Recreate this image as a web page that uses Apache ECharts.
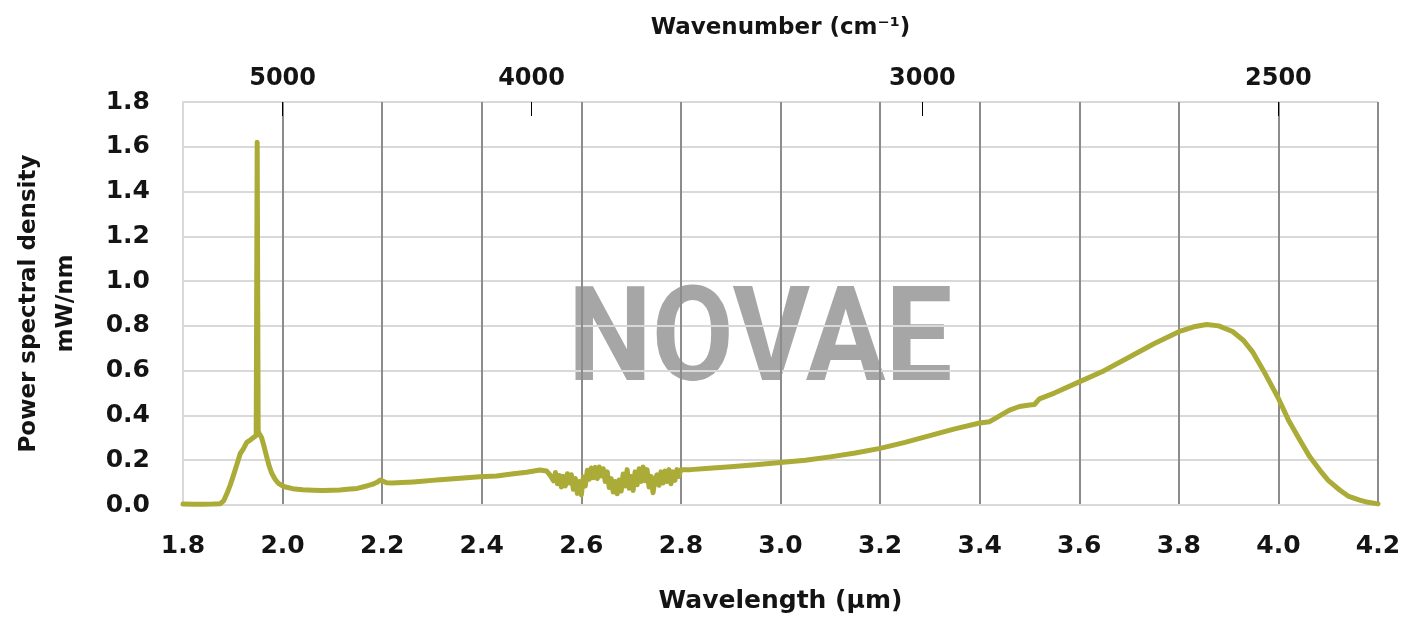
<!DOCTYPE html>
<html>
<head>
<meta charset="utf-8">
<script src="https://cdn.jsdelivr.net/npm/echarts@6/dist/echarts.min.js"></script>
<style>
html,body{margin:0;padding:0;background:#fff;}
#chart{width:1418px;height:618px;}
</style>
</head>
<body>
<div id="chart"></div>
<script>
// Wavelength (µm) samples
var wavelength = [
  1.80, 1.82, 1.84, 1.86, 1.875, 1.882, 1.888, 1.895, 1.901, 1.908, 1.915, 1.921, 1.928, 1.935, 1.941, 1.945, 1.947, 1.949, 1.951, 1.953,
  1.958, 1.963, 1.968, 1.973, 1.978, 1.985, 1.991, 2.000, 2.008, 2.020, 2.040, 2.061, 2.080, 2.100, 2.115, 2.130, 2.150, 2.169, 2.180, 2.190,
  2.196, 2.200, 2.209, 2.220, 2.240, 2.262, 2.280, 2.300, 2.316, 2.350, 2.396, 2.430, 2.460, 2.490, 2.517, 2.530, 2.537,
  2.540, 2.544, 2.548, 2.552, 2.556, 2.560, 2.564, 2.568, 2.572, 2.576, 2.580, 2.584, 2.588, 2.592, 2.596, 2.600,
  2.604, 2.608, 2.612, 2.616, 2.620, 2.624, 2.628, 2.632, 2.636, 2.640, 2.644, 2.648, 2.652, 2.656, 2.660, 2.664,
  2.668, 2.672, 2.676, 2.680, 2.684, 2.688, 2.692, 2.696, 2.700, 2.704, 2.708, 2.712, 2.716, 2.720, 2.724, 2.728,
  2.732, 2.736, 2.740, 2.744, 2.748, 2.752, 2.756, 2.760, 2.764, 2.768, 2.772, 2.776, 2.780, 2.784, 2.788, 2.792,
  2.796, 2.800,
  2.82, 2.85, 2.90, 2.95, 3.00, 3.05, 3.10, 3.15, 3.20, 3.25, 3.30, 3.35, 3.40, 3.42, 3.44, 3.46, 3.48, 3.50, 3.51, 3.52,
  3.55, 3.60, 3.65, 3.70, 3.75, 3.80, 3.83, 3.856, 3.88, 3.908, 3.93, 3.948, 3.97, 4.00, 4.02, 4.043, 4.063, 4.083, 4.10, 4.123,
  4.14, 4.163, 4.18, 4.20
];
// Power spectral density (mW/nm)
var psd = [
  0.004, 0.003, 0.003, 0.004, 0.006, 0.020, 0.050, 0.090, 0.130, 0.180, 0.230, 0.250, 0.280, 0.290, 0.300, 0.305, 0.310, 1.620, 0.330, 0.320,
  0.300, 0.260, 0.216, 0.175, 0.143, 0.115, 0.098, 0.085, 0.079, 0.073, 0.068, 0.066, 0.065, 0.066, 0.067, 0.070, 0.074, 0.085, 0.092, 0.102,
  0.112, 0.110, 0.099, 0.098, 0.100, 0.103, 0.106, 0.110, 0.113, 0.118, 0.126, 0.130, 0.138, 0.146, 0.156, 0.152, 0.134,
  0.140, 0.108, 0.145, 0.095, 0.132, 0.080, 0.128, 0.085, 0.140, 0.098, 0.135, 0.070, 0.118, 0.052, 0.105, 0.045,
  0.125, 0.085, 0.155, 0.115, 0.165, 0.122, 0.168, 0.118, 0.170, 0.130, 0.162, 0.105, 0.148, 0.078, 0.118, 0.058,
  0.105, 0.050, 0.112, 0.062, 0.138, 0.085, 0.158, 0.075, 0.128, 0.065, 0.148, 0.090, 0.162, 0.105, 0.170, 0.108,
  0.158, 0.080, 0.128, 0.055, 0.112, 0.135, 0.088, 0.148, 0.098, 0.152, 0.105, 0.158, 0.095, 0.148, 0.110, 0.158,
  0.128, 0.158,
  0.158, 0.163, 0.171, 0.180, 0.190, 0.200, 0.215, 0.232, 0.253, 0.280, 0.310, 0.340, 0.366, 0.372, 0.398, 0.424, 0.440, 0.447, 0.449, 0.474,
  0.500, 0.550, 0.600, 0.660, 0.720, 0.774, 0.796, 0.806, 0.800, 0.775, 0.735, 0.684, 0.600, 0.476, 0.380, 0.290, 0.215, 0.156, 0.110, 0.067,
  0.040, 0.022, 0.012, 0.005
];
// Top (wavenumber) axis: tick labels and their wavelength positions as drawn
var wavenumberLabels = ['5000', '4000', '3000', '2500'];
var wavenumberPos = [2.0, 2.5, 3.285, 4.0];

var xMin = 1.8, xMax = 4.2, xStep = 0.2;
var yMin = 0, yMax = 1.8, yStep = 0.2;

var seriesData = wavelength.map(function (w, i) { return [w, psd[i]]; });
var FONT = 'DejaVu Sans';
var TXT = '#141414';

var chart = echarts.init(document.getElementById('chart'), null, {renderer: 'canvas'});
chart.setOption({
  animation: false,
  backgroundColor: '#ffffff',
  grid: {left: 183, right: 40, top: 102, bottom: 113, containLabel: false, outerBoundsMode: 'none'},
  graphic: [{
    type: 'text',
    z: -10,
    left: 568,
    top: 281,
    scaleX: 0.9,
    style: {
      text: 'NOVAE',
      fill: '#a6a6a6',
      fontFamily: 'Roboto',
      fontWeight: 'bold',
      fontSize: 132
    }
  }],
  xAxis: [{
    type: 'value',
    position: 'bottom',
    min: xMin, max: xMax, interval: xStep,
    name: 'Wavelength (µm)',
    nameLocation: 'middle',
    nameGap: 84,
    nameTextStyle: {fontFamily: FONT, fontWeight: 'bold', fontSize: 25, color: TXT},
    axisLine: {show: true, lineStyle: {color: '#d9d9d9', width: 2}},
    axisTick: {show: false},
    axisLabel: {
      margin: 29,
      fontFamily: FONT, fontWeight: 'bold', fontSize: 25, color: TXT,
      formatter: function (v) { return v.toFixed(1); }
    },
    splitLine: {show: true, showMinLine: false, lineStyle: {color: '#8c8c8c', width: 2}}
  }, {
    type: 'value',
    position: 'top',
    min: xMin, max: xMax,
    name: 'Wavenumber (cm⁻¹)',
    nameLocation: 'middle',
    nameGap: 62,
    nameTextStyle: {fontFamily: FONT, fontWeight: 'bold', fontSize: 23, color: TXT},
    axisLine: {show: false},
    axisTick: {show: true, inside: true, length: 14, customValues: wavenumberPos, lineStyle: {color: '#000', width: 1}},
    axisLabel: {
      margin: 11,
      customValues: wavenumberPos,
      fontFamily: FONT, fontWeight: 'bold', fontSize: 24, color: TXT,
      formatter: function (v) {
        for (var i = 0; i < wavenumberPos.length; i++) {
          if (Math.abs(wavenumberPos[i] - v) < 1e-6) return wavenumberLabels[i];
        }
        return '';
      }
    },
    splitLine: {show: false}
  }],
  yAxis: {
    type: 'value',
    min: yMin, max: yMax, interval: yStep,
    name: 'Power spectral density\nmW/nm',
    nameLocation: 'middle',
    nameGap: 98,
    nameTextStyle: {fontFamily: FONT, fontWeight: 'bold', fontSize: 23, lineHeight: 37, color: TXT},
    axisLine: {show: true, lineStyle: {color: '#d9d9d9', width: 2}},
    axisTick: {show: false},
    axisLabel: {
      margin: 33,
      fontFamily: FONT, fontWeight: 'bold', fontSize: 25, color: TXT,
      formatter: function (v) { return v.toFixed(1); }
    },
    splitLine: {show: true, lineStyle: {color: '#d9d9d9', width: 2}}
  },
  series: [{
    type: 'line',
    xAxisIndex: 0,
    data: seriesData,
    showSymbol: false,
    symbol: 'none',
    lineStyle: {color: '#abab38', width: 5, join: 'round', cap: 'round'},
    z: 5
  }]
});
</script>
</body>
</html>
